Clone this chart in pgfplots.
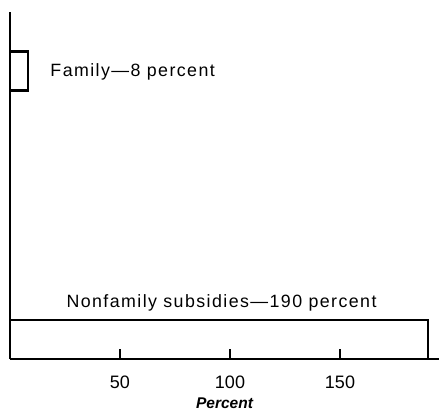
\documentclass[border=0pt]{standalone}
\usepackage{pgfplots}
\pgfplotsset{compat=1.18}
\usepackage{fontspec}
\setmainfont{Liberation Sans}[LetterSpace=8]
\newfontfamily\plainf{Liberation Sans}
\begin{document}
\begin{tikzpicture}
\begin{axis}[
  scale only axis,
  width=429pt, height=347pt,
  xmin=0, xmax=195, ymin=0, ymax=347,
  axis x line=bottom, axis y line=left,
  axis line style={-, line width=1.6pt},
  ytick=\empty,
  xtick={50,100,150},
  major tick length=0pt,
  every tick label/.style={font=\plainf\fontsize{18}{20}\selectfont},
  xticklabel style={anchor=center, yshift=-23.5pt},
  xlabel={Percent},
  xlabel style={at={(axis description cs:0.5,0)}, anchor=center, yshift=-44pt,
    font=\plainf\fontsize{15.5}{17}\selectfont\itshape\bfseries},
  /pgf/number format/assume math mode=true,
  clip=false,
]
\addplot[black, line width=2.2pt, sharp plot] coordinates {(0,268.5) (8,268.5) (8,307.5) (0,307.5)};
\addplot[black, line width=2.2pt, sharp plot] coordinates {(0,39) (190,39) (190,0)};
% tick marks
\addplot[black, line width=2.6pt, sharp plot] coordinates {(50,0) (50,10)};
\addplot[black, line width=2.6pt, sharp plot] coordinates {(100,0) (100,10)};
\addplot[black, line width=2.6pt, sharp plot] coordinates {(150,0) (150,10)};
\node[anchor=base west, font=\fontsize{17.8}{20}\selectfont] at (axis cs:16.8,282) {Family—8 percent};
\node[anchor=base west, font=\fontsize{17.8}{20}\selectfont] at (axis cs:24.1,52) {Nonfamily subsidies—190 percent};
\end{axis}
\pgfresetboundingbox
\path[use as bounding box] (-10pt,-54pt) rectangle (437pt,359pt);
\end{tikzpicture}
\end{document}
